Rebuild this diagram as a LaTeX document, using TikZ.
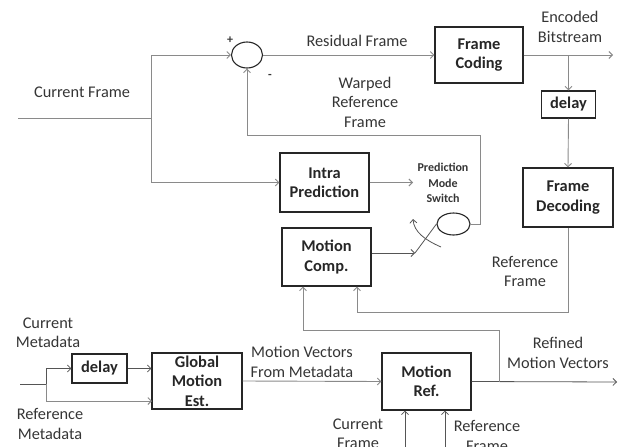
\documentclass[tikz,border=0pt]{standalone}
\usepackage{fontspec}
\setmainfont{Carlito}
\usetikzlibrary{arrows.meta,shapes.geometric}
\definecolor{linegray}{HTML}{8A8A8A}
\definecolor{linedark}{HTML}{555555}
\definecolor{txtgray}{HTML}{353535}
\tikzset{
  box/.style={draw=black!85, line width=1.1pt, rectangle, align=center,
    font=\fontsize{16.4}{19.5}\selectfont\bfseries, text=black!85, inner sep=0pt},
  lbl/.style={align=center, font=\fontsize{16.3}{19.5}\selectfont, text=txtgray, inner sep=0pt},
  sumcirc/.style={draw=black!85, line width=1.1pt, ellipse, inner sep=0pt},
  conn/.style={draw=linegray, line width=0.9pt},
  conndark/.style={draw=linedark, line width=0.8pt},
  arr/.style={-{Straight Barb[length=3.5pt,width=7pt]}}
}
\begin{document}
\begin{tikzpicture}[x=1pt,y=-1pt]
\useasboundingbox (0,0) rectangle (619,447);
% boxes
\node[sumcirc, minimum width=31pt, minimum height=26pt] (sum) at (247,55) {};
\node[box, minimum width=88pt, minimum height=56pt] (fc) at (479,55) {Frame\\Coding};
\node[box, minimum width=54pt, minimum height=27pt] (d1) at (568.5,104.5) {delay};
\node[box, minimum width=90pt, minimum height=59pt] (fd) at (568,197.5) {Frame\\Decoding};
\node[box, minimum width=89pt, minimum height=59pt] (ip) at (324.5,182.5) {Intra\\Prediction};
\node[box, minimum width=89pt, minimum height=58pt] (mc) at (326.5,257) {Motion\\Comp.};
\node[sumcirc, minimum width=33pt, minimum height=22pt] (sw) at (453.5,224) {};
\node[box, minimum width=55pt, minimum height=29pt] (d2) at (99.5,368.5) {delay};
\node[box, minimum width=90pt, minimum height=56pt] (gme) at (197,381) {Global\\Motion\\Est.};
\node[box, minimum width=89pt, minimum height=57pt] (mr) at (426.5,381.5) {Motion\\Ref.};
% coordinates
\coordinate (cfin) at (18,118);
\coordinate (cfj) at (151,118);
\coordinate (ebo) at (613,55);
\coordinate (eb) at (568.5,55);
\coordinate (rfc) at (357,312);
\coordinate (wr) at (480,135);
\coordinate (ipo) at (413,182.5);
\coordinate (mco) at (415,253);
\coordinate (curS) at (441,247);
\coordinate (curE) at (413,219);
\coordinate (mdin) at (20,384);
\coordinate (mdj) at (46,384);
\coordinate (gl) at (152,401);
\coordinate (rmv) at (617,382);
\coordinate (mrj) at (499,382);
\coordinate (mcb) at (303,330);
\coordinate (cfb) at (405,450);
\coordinate (rfb) at (445,450);
% connectors
\draw[conn] (cfin) -- (cfj);
\draw[conn,arr] (cfj) |- (sum.west);
\draw[conn,arr] (cfj) |- (ip.west);
\draw[conn,arr] (sum.east) -- (fc.west);
\draw[conn,arr] (fc.east) -- (ebo);
\draw[conn,arr] (eb) -- (d1.north);
\draw[conn,arr] (d1.south) -- (fd.north);
\draw[conn,arr] (fd.south) |- (rfc) -- (rfc |- mc.south);
\draw[conn,arr] (sw.east) -| (wr) -| (sum.south);
\draw[conn,arr] (ip.east) -- (ipo);
\draw[conndark,arr] (mc.east |- mco) -- (mco);
\draw[conndark] (mco) -- (sw.west);
\draw[conndark,arr] (curS) .. controls (425,240) and (414,232) .. (curE);
\draw[conndark] (mdin) -- (mdj);
\draw[conndark,arr] (mdj) |- (d2.west);
\draw[conn,arr] (mdj) |- (gl);
\draw[conndark,arr] (d2.east) -- (d2.east -| gme.west);
\draw[conn,arr] (gme.east) -- (mr.west);
\draw[conndark,arr] (mr.east) -- (rmv);
\draw[conn,arr] (mrj) |- (mcb) -- (mcb |- mc.south);
\draw[conndark,arr] (cfb) -- (cfb |- mr.south);
\draw[conndark,arr] (rfb) -- (rfb |- mr.south);
% labels
\node[lbl, font=\fontsize{12}{14}\selectfont\bfseries] (plus) at (230,40) {+};
\node[lbl, font=\fontsize{12}{14}\selectfont\bfseries] (minus) at (270,76) {-};
\node[lbl] (lres) at (357,41) {Residual Frame};
\node[lbl] (lenc) at (570,27) {Encoded\\Bitstream};
\node[lbl] (lwarp) at (365,102) {Warped\\Reference\\Frame};
\node[lbl] (lcf) at (82,92) {Current Frame};
\node[lbl, font=\fontsize{12}{15.5}\selectfont\bfseries] (lpms) at (443,183) {Prediction\\Mode\\Switch};
\node[lbl] (lref) at (525,271.5) {Reference\\Frame};
\node[lbl] (lcm) at (48,333) {Current\\Metadata};
\node[lbl] (lrm) at (50,424) {Reference\\Metadata};
\node[lbl] (lmv) at (302,362) {Motion Vectors\\From Metadata};
\node[lbl] (lrmv) at (558,353) {Refined\\Motion Vectors};
\node[lbl] (lcfb) at (358,434) {Current\\Frame};
\node[lbl] (lrfb) at (487,436) {Reference\\Frame};
\end{tikzpicture}
\end{document}
